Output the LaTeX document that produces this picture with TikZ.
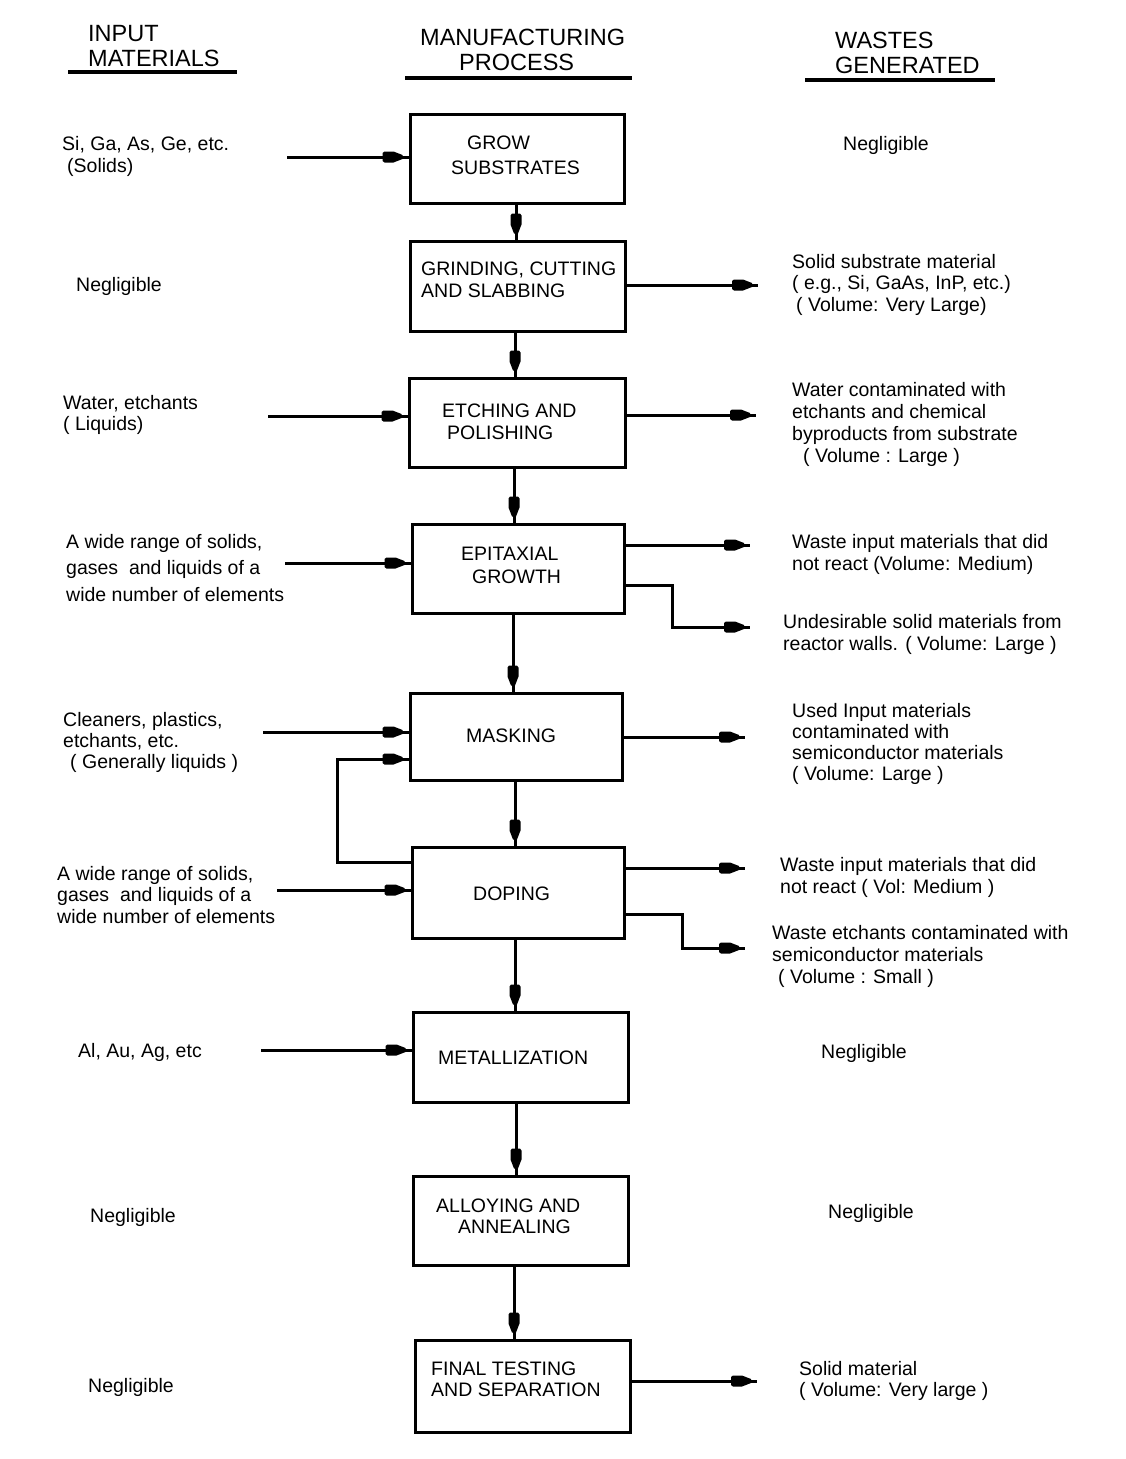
\documentclass[tikz,border=0pt]{standalone}
\usepackage{fontspec}
\setmainfont{Liberation Sans}
\usetikzlibrary{decorations.markings}
\begin{document}
\begin{tikzpicture}[x=1pt,y=-1pt,
  txt/.style={anchor=base west, inner sep=0pt, align=left, font=\fontsize{19.5}{#1}\selectfont},
  txt/.default=22,
  hdr/.style={anchor=base west, inner sep=0pt, align=left, font=\fontsize{23.5}{25}\selectfont},
  proc/.style={draw, line width=3pt, inner sep=0pt},
  uline/.style={line width=3.5pt},
  flow/.style={line width=3pt, postaction={decorate},
    decoration={markings, mark=at position -6pt with {\fill[black] (-20pt,4pt) -- (-18pt,5.5pt) -- (-9pt,5.5pt) -- (0pt,2pt) -- (0pt,-2pt) -- (-9pt,-5.5pt) -- (-18pt,-5.5pt) -- (-20pt,-4pt) -- cycle;}}}
]
\useasboundingbox (0,0) rectangle (1126,1459);
\fill[white] (0,0) rectangle (1126,1459);

% headers (y = baseline of last line)
\node[hdr] (h1) at (88,66) {INPUT\\MATERIALS};
\node[hdr] (h2) at (420,70) {MANUFACTURING\\\hspace*{39pt}PROCESS};
\node[hdr] (h3) at (835,73) {WASTES\\GENERATED};
\draw[uline] (68,72) -- (237,72);
\draw[uline] (405,78) -- (632,78);
\draw[uline] (805,80) -- (995,80);

% process boxes
\node[proc, minimum width=214pt, minimum height=89pt] (b1) at (517,158.5) {};
\node[proc, minimum width=215pt, minimum height=90pt] (b2) at (517.5,286) {};
\node[proc, minimum width=216pt, minimum height=89pt] (b3) at (517,422.5) {};
\node[proc, minimum width=212pt, minimum height=89pt] (b4) at (518,568.5) {};
\node[proc, minimum width=212pt, minimum height=87pt] (b5) at (516,736.5) {};
\node[proc, minimum width=212pt, minimum height=91pt] (b6) at (518,892.5) {};
\node[proc, minimum width=215pt, minimum height=90pt] (b7) at (520.5,1057) {};
\node[proc, minimum width=215pt, minimum height=89pt] (b8) at (520.5,1220.5) {};
\node[proc, minimum width=215pt, minimum height=92pt] (b9) at (522.5,1386) {};

% box texts
\node[txt=25] (t1) at (451,174) {\hspace*{16pt}GROW\\SUBSTRATES};
\node[txt] (t2) at (421,297) {GRINDING, CUTTING\\AND SLABBING};
\node[txt] (t3) at (442,439) {ETCHING AND\\\hspace*{5pt}POLISHING};
\node[txt=23] (t4) at (461,583) {EPITAXIAL\\\hspace*{11pt}GROWTH};
\node[txt] (t5) at (466,742) {MASKING};
\node[txt] (t6) at (473,900) {DOPING};
\node[txt] (t7) at (438,1064) {METALLIZATION};
\node[txt=21] (t8) at (436,1233) {ALLOYING AND\\\hspace*{22pt}ANNEALING};
\node[txt=21] (t9) at (431,1396) {FINAL TESTING\\AND SEPARATION};

% vertical flow
\draw[flow] (b1.south -| 516,0) -- (b2.north -| 516,0);
\draw[flow] (b2.south -| 515,0) -- (b3.north -| 515,0);
\draw[flow] (b3.south -| 514,0) -- (b4.north -| 514,0);
\draw[flow] (b4.south -| 513,0) -- (b5.north -| 513,0);
\draw[flow] (b5.south -| 515,0) -- (b6.north -| 515,0);
\draw[flow] (b6.south -| 515,0) -- (b7.north -| 515,0);
\draw[flow] (b7.south -| 516,0) -- (b8.north -| 516,0);
\draw[flow] (b8.south -| 514,0) -- (b9.north -| 514,0);

% input texts
\node[txt] (l1) at (62,172) {Si, Ga, As, Ge, etc.\\\hspace*{5pt}(Solids)};
\node[txt] (l2) at (76,291) {Negligible};
\node[txt=21.5] (l3) at (63,430.5) {Water, etchants\\( Liquids)};
\node[txt=26.5] (l4) at (66,601) {A wide range of solids,\\gases\ \ and liquids of a\\wide number of elements};
\node[txt=21] (l5) at (63,768) {Cleaners, plastics,\\etchants, etc.\\\hspace*{7pt}( Generally liquids )};
\node[txt=21.5] (l6) at (57,923) {A wide range of solids,\\gases\ \ and liquids of a\\wide number of elements};
\node[txt] (l7) at (78,1057) {Al, Au, Ag, etc};
\node[txt] (l8) at (90,1222) {Negligible};
\node[txt] (l9) at (88,1392) {Negligible};

% input arrows
\coordinate (i1) at (287,157);
\coordinate (i3) at (268,416);
\coordinate (i4) at (285,563);
\coordinate (i5) at (263,732);
\coordinate (i6) at (277,890);
\coordinate (i7) at (261,1050);
\coordinate (lp) at (337,759);
\draw[flow] (i1) -- (i1 -| b1.west);
\draw[flow] (i3) -- (i3 -| b3.west);
\draw[flow] (i4) -- (i4 -| b4.west);
\draw[flow] (i5) -- (i5 -| b5.west);
\draw[flow] (b6.west |- 0,862) -| (lp) -- (lp -| b5.west);
\draw[flow] (i6) -- (i6 -| b6.west);
\draw[flow] (i7) -- (i7 -| b7.west);

% waste texts
\node[txt] (r1) at (843,150) {Negligible};
\node[txt=21.5] (r2) at (792,311) {Solid substrate material\\( e.g., Si, GaAs, InP, etc.)\\\hspace*{4pt}( Volume: Very Large)};
\node[txt=21.7] (r3) at (792,462) {Water contaminated with\\etchants and chemical\\byproducts from substrate\\\hspace*{11pt}( Volume : Large )};
\node[txt] (r4) at (792,570) {Waste input materials that did\\not react (Volume: Medium)};
\node[txt] (r5) at (783,650) {Undesirable solid materials from\\reactor walls. ( Volume: Large )};
\node[txt=21] (r6) at (792,780) {Used Input materials\\contaminated with\\semiconductor materials\\( Volume: Large )};
\node[txt] (r7) at (780,893) {Waste input materials that did\\not react ( Vol: Medium )};
\node[txt] (r8) at (772,983) {Waste etchants contaminated with\\semiconductor materials\\\hspace*{6pt}( Volume : Small )};
\node[txt] (r9) at (821,1058) {Negligible};
\node[txt] (r10) at (828,1218) {Negligible};
\node[txt=21] (r11) at (799,1396) {Solid material\\( Volume: Very large )};

% output arrows
\coordinate (o2) at (758,285);
\coordinate (o3) at (756,415);
\coordinate (o4a) at (750,545);
\coordinate (o4b) at (750,627);
\coordinate (k4) at (672,585);
\coordinate (o5) at (745,737);
\coordinate (o6a) at (745,868);
\coordinate (o6b) at (745,948);
\coordinate (k6) at (682,914);
\coordinate (o9) at (757,1381);
\draw[flow] (o2 -| b2.east) -- (o2);
\draw[flow] (o3 -| b3.east) -- (o3);
\draw[flow] (o4a -| b4.east) -- (o4a);
\draw[flow] (k4 -| b4.east) -- (k4) |- (o4b);
\draw[flow] (o5 -| b5.east) -- (o5);
\draw[flow] (o6a -| b6.east) -- (o6a);
\draw[flow] (k6 -| b6.east) -- (k6) |- (o6b);
\draw[flow] (o9 -| b9.east) -- (o9);
\end{tikzpicture}
\end{document}
